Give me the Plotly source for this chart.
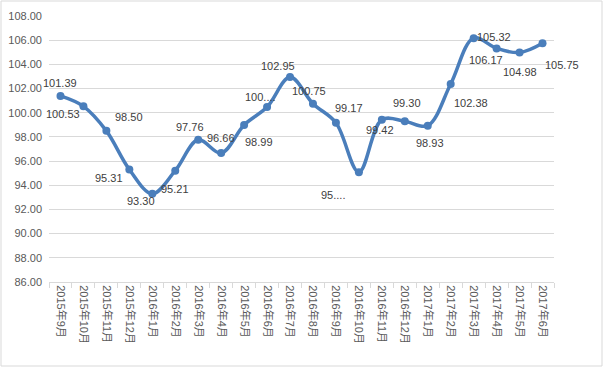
import plotly.graph_objects as go

categories = ["2015年9月", "2015年10月", "2015年11月", "2015年12月", "2016年1月", "2016年2月",
              "2016年3月", "2016年4月", "2016年5月", "2016年6月", "2016年7月", "2016年8月",
              "2016年9月", "2016年10月", "2016年11月", "2016年12月", "2017年1月", "2017年2月",
              "2017年3月", "2017年4月", "2017年5月", "2017年6月"]
values = [101.39, 100.53, 98.50, 95.31, 93.30, 95.21, 97.76, 96.66, 98.99, 100.47, 102.95, 100.75,
          99.17, 95.08, 99.42, 99.30, 98.93, 102.38, 106.17, 105.32, 104.98, 105.75]
label_text = ["101.39", "100.53", "98.50", "95.31", "93.30", "95.21", "97.76", "96.66", "98.99",
              "100....", "102.95", "100.75", "99.17", "95....", "99.42", "99.30", "98.93", "102.38",
              "106.17", "105.32", "104.98", "105.75"]
y_ticks = [86, 88, 90, 92, 94, 96, 98, 100, 102, 104, 106, 108]

# label offsets in screen pixels (dx right, dy down)
label_dx = [0, -20, 23, -20, -11, 0, -8, 0, 15, -7, -12, -4, 13, -26, -2, 2, 2, 20, 12, -3, 0, 19]
label_dy = [-13, 8, -14, 9, 7, 18, -13, -15, 17, -10, -11, -13, -15, 23, 10, -18, 17, 19, 22, -11, 19, 22]

W, H = 606, 368
ML, MR, MT, MB = 49, 52, 16, 86
FONT = "Liberation Sans, Arial, Noto Sans CJK SC, sans-serif"
LINE = "#4A7EBB"

fig = go.Figure()
fig.add_trace(go.Scatter(
    x=categories, y=values, mode="lines+markers",
    line=dict(color=LINE, width=3.5, shape="spline", smoothing=1.0),
    marker=dict(color=LINE, size=8),
    hoverinfo="x+y", showlegend=False,
))

for c, v, t, dx, dy in zip(categories, values, label_text, label_dx, label_dy):
    fig.add_annotation(x=c, y=v, xref="x", yref="y", text=t, showarrow=False,
                       xshift=dx, yshift=-dy,
                       font=dict(family=FONT, size=11, color="#404040"))

pw = W - ML - MR
ph = H - MT - MB
fig.add_shape(type="rect", xref="paper", yref="paper",
              x0=(1 - ML) / pw, x1=(602 - ML) / pw,
              y0=(H - MB - 366) / ph, y1=(H - MB - 1) / ph,
              line=dict(color="#D9D9D9", width=1), fillcolor="rgba(0,0,0,0)", layer="below")

fig.update_layout(
    width=W, height=H,
    margin=dict(l=ML, r=MR, t=MT, b=MB, autoexpand=False),
    paper_bgcolor="white", plot_bgcolor="white",
    font=dict(family=FONT, size=11, color="#595959"),
    xaxis=dict(
        type="category", range=[-0.5, len(categories) - 0.5],
        tickangle=90, showgrid=False, automargin=False,
        showline=True, linecolor="#D9D9D9", linewidth=1,
        ticks="outside", tickson="boundaries", ticklen=5, tickcolor="#D9D9D9",
        tickfont=dict(family=FONT, size=11, color="#595959"),
        fixedrange=True,
    ),
    yaxis=dict(
        range=[86, 108], tickvals=y_ticks, tickformat=".2f", automargin=False,
        showgrid=True, gridcolor="#D9D9D9", gridwidth=1,
        zeroline=False, showline=False, ticks="",
        ticklabelstandoff=6,
        tickfont=dict(family=FONT, size=11, color="#595959"),
        fixedrange=True,
    ),
)

fig.write_html("out.html", config={"displayModeBar": False},
               post_script="document.body.style.margin='0';")
